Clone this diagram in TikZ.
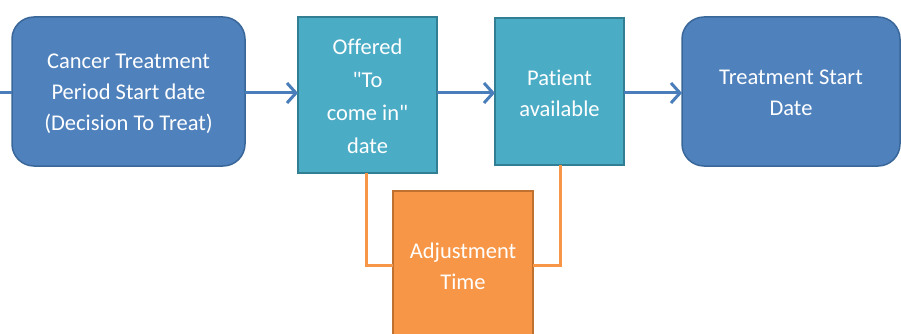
\documentclass[tikz,border=0pt]{standalone}
\usepackage{fontspec}
\setmainfont{Carlito}[Ligatures={NoCommon,TeXOff}]
\usetikzlibrary{arrows.meta}
\definecolor{dblue}{HTML}{4F81BD}
\definecolor{dblueb}{HTML}{3A6799}
\definecolor{teal}{HTML}{4BACC6}
\definecolor{tealb}{HTML}{327F93}
\definecolor{orng}{HTML}{F79646}
\definecolor{orngb}{HTML}{C0712F}
\definecolor{arrblue}{HTML}{4A7EBB}
\tikzset{
  lbl/.style={text=white,font=\fontsize{22.5}{31}\selectfont,align=center},
  lblwide/.style={text=white,font=\fontsize{22.5}{33}\selectfont,align=center},
  roundbox/.style={fill=dblue,draw=dblueb,line width=1.5pt,rounded corners=22pt},
  tealbox/.style={fill=teal,draw=tealb,line width=2pt},
  orangebox/.style={fill=orng,draw=orngb,line width=2pt},
  flow/.style={draw=arrblue,line width=3pt,-{Straight Barb[length=9pt,width=20pt,line width=3pt]}},
  adj/.style={draw=orng,line width=3pt},
}
\begin{document}
\begin{tikzpicture}[x=1pt,y=-1pt]
\useasboundingbox (0,0) rectangle (901,334);
\clip (0,0) rectangle (901,334);
\fill[white] (0,0) rectangle (901,334);
% boxes
\draw[roundbox] (12,17) rectangle (245,166);
\node[lbl] (a) at (128.5,94) {Cancer Treatment\\Period Start date\\(Decision To Treat)};
\coordinate (aw) at (12,93);
\coordinate (ae) at (245,93);
\draw[tealbox] (298,17) rectangle (437,173);
\node[lblwide] (b) at (367.5,96) {Offered\\"To\\come in"\\date};
\coordinate (bw) at (298,93);
\coordinate (be) at (437,93);
\coordinate (bs) at (366,173);
\draw[tealbox] (495,18) rectangle (624,165);
\node[lbl] (c) at (559.5,93) {Patient\\available};
\coordinate (cw) at (495,93);
\coordinate (ce) at (624,93);
\coordinate (cs) at (560,165);
\draw[roundbox] (682,17) rectangle (900,166);
\node[lbl] (d) at (791,93) {Treatment Start\\Date};
\coordinate (dw) at (682,93);
\draw[orangebox] (393,191) rectangle (533,345);
\node[lbl] (e) at (463,266) {Adjustment\\Time};
\coordinate (ew) at (393,265);
\coordinate (ee) at (533,265);
\coordinate (stub) at (0,93);
% connectors
\draw[draw=arrblue,line width=3pt] (stub) -- (aw);
\draw[flow] (ae) -- (bw);
\draw[flow] (be) -- (cw);
\draw[flow] (ce) -- (dw);
\draw[adj] (bs) |- (ew);
\draw[adj] (cs) |- (ee);
\end{tikzpicture}
\end{document}
